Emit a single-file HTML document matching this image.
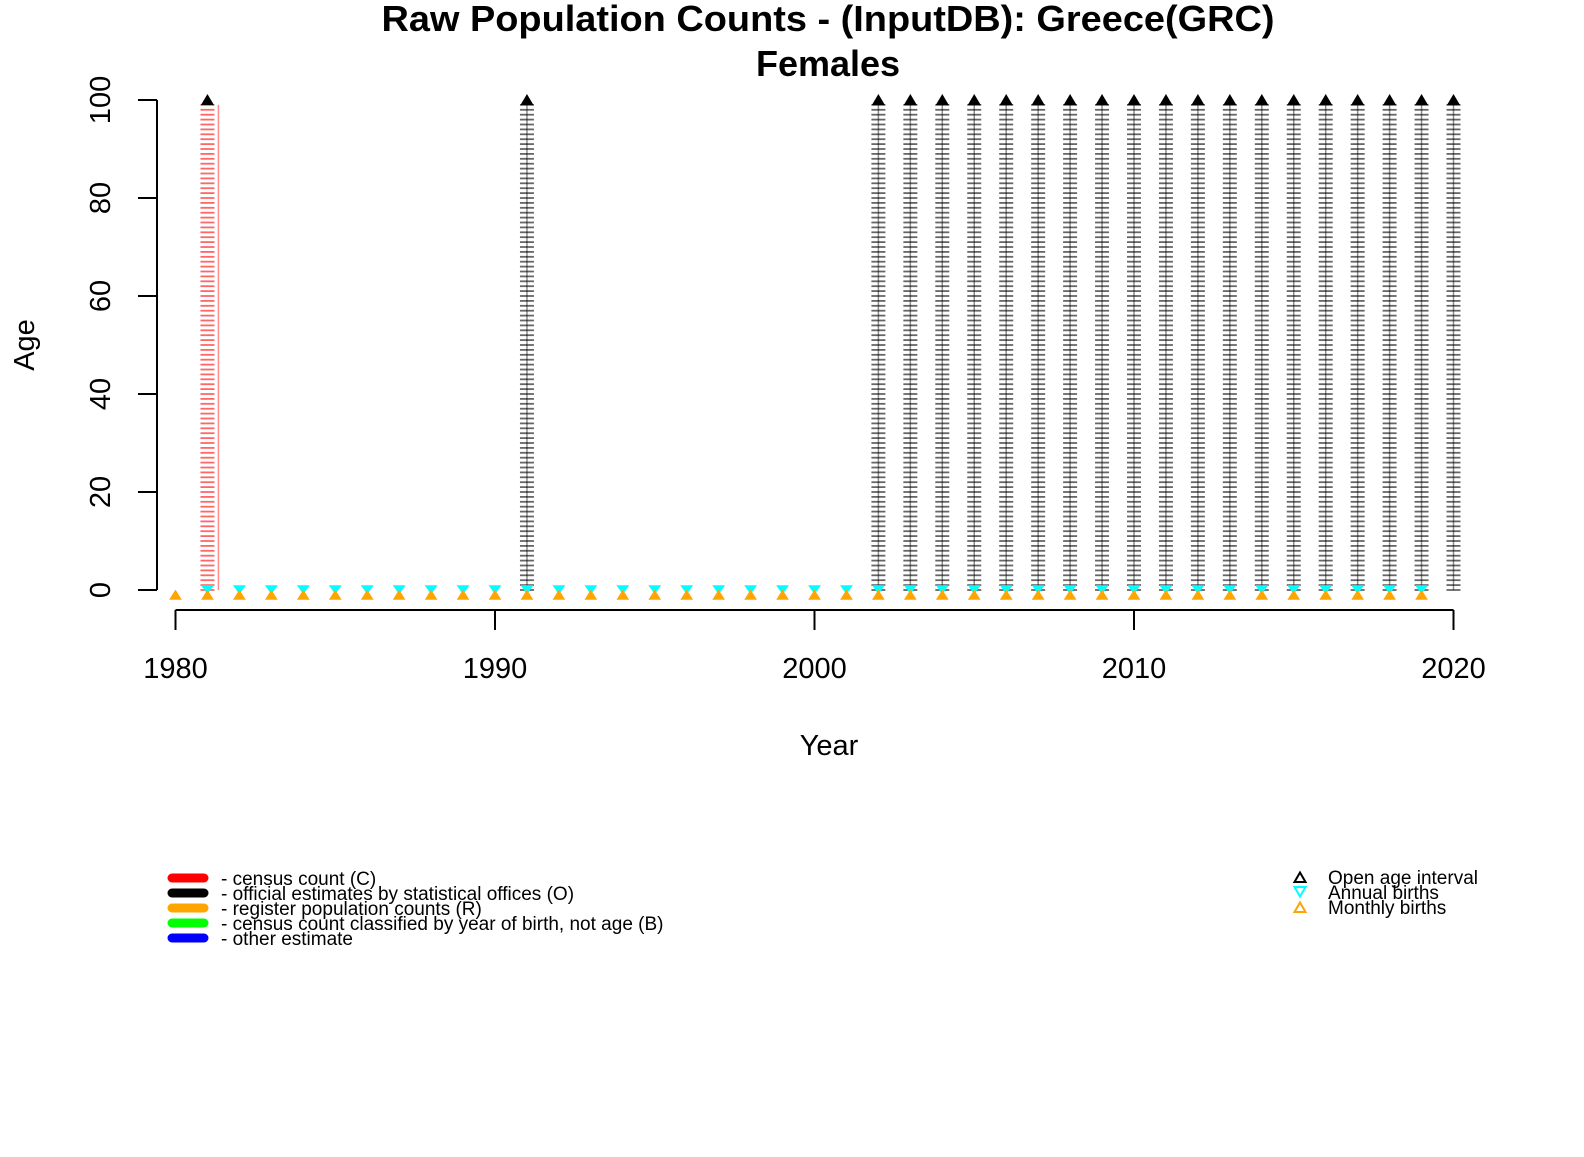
<!DOCTYPE html>
<html><head><meta charset="utf-8"><style>
html,body{margin:0;padding:0;background:#fff}
svg text{font-family:"Liberation Sans",Arial,sans-serif}
</style></head><body>
<svg id="chart" width="1584" height="1152" viewBox="0 0 1584 1152" xmlns="http://www.w3.org/2000/svg">
<text x="828" y="31" text-anchor="middle" font-size="36" font-weight="bold" textLength="893" lengthAdjust="spacingAndGlyphs">Raw Population Counts - (InputDB): Greece(GRC)</text>
<text x="828" y="76" text-anchor="middle" font-size="36" font-weight="bold">Females</text>
<g id="axes"></g>
<g id="marks"></g>
<text x="829" y="755" text-anchor="middle" font-size="29">Year</text>
<text transform="translate(34,345) rotate(-90)" text-anchor="middle" font-size="29">Age</text>
<g id="legend-left">
 <line x1="172" y1="878" x2="204" y2="878" stroke="#f00" stroke-width="9" stroke-linecap="round"/>
 <line x1="172" y1="893" x2="204" y2="893" stroke="#000" stroke-width="9" stroke-linecap="round"/>
 <line x1="172" y1="908" x2="204" y2="908" stroke="#ffa500" stroke-width="9" stroke-linecap="round"/>
 <line x1="172" y1="923" x2="204" y2="923" stroke="#0f0" stroke-width="9" stroke-linecap="round"/>
 <line x1="172" y1="938" x2="204" y2="938" stroke="#00f" stroke-width="9" stroke-linecap="round"/>
 <g font-size="19">
 <text x="221" y="885">- census count (C)</text>
 <text x="221" y="900">- official estimates by statistical offices (O)</text>
 <text x="221" y="915">- register population counts (R)</text>
 <text x="221" y="930">- census count classified by year of birth, not age (B)</text>
 <text x="221" y="945">- other estimate</text>
 </g>
</g>
<g id="legend-right">
 <polygon points="1294.5,882 1305.5,882 1300,872.5" fill="none" stroke="#000" stroke-width="2"/>
 <polygon points="1294.5,887 1305.5,887 1300,896.5" fill="none" stroke="#0ff" stroke-width="2"/>
 <polygon points="1294.5,912 1305.5,912 1300,902.5" fill="none" stroke="#ffa500" stroke-width="2"/>
 <g font-size="19">
 <text x="1328" y="884">Open age interval</text>
 <text x="1328" y="899">Annual births</text>
 <text x="1328" y="914">Monthly births</text>
 </g>
</g>
</svg>
<script>
const censusYears = [1981];
const officialYears = [1991, 2002, 2003, 2004, 2005, 2006, 2007, 2008, 2009, 2010, 2011, 2012, 2013, 2014, 2015, 2016, 2017, 2018, 2019, 2020];
const openAgeYears = [1981, 1991, 2002, 2003, 2004, 2005, 2006, 2007, 2008, 2009, 2010, 2011, 2012, 2013, 2014, 2015, 2016, 2017, 2018, 2019, 2020];
const annualBirthYears = [1981,1982,1983,1984,1985,1986,1987,1988,1989,1990,1991,1992,1993,1994,1995,1996,1997,1998,1999,2000,2001,2002,2003,2004,2005,2006,2007,2008,2009,2010,2011,2012,2013,2014,2015,2016,2017,2018,2019];
const monthlyBirthYears = [1980,1981,1982,1983,1984,1985,1986,1987,1988,1989,1990,1991,1992,1993,1994,1995,1996,1997,1998,1999,2000,2001,2002,2003,2004,2005,2006,2007,2008,2009,2010,2011,2012,2013,2014,2015,2016,2017,2018,2019];
const openAge = 100;
const maxTickAge = 99;
const xTicks = [1980, 1990, 2000, 2010, 2020];
const yTicks = [0, 20, 40, 60, 80, 100];

const NS = 'http://www.w3.org/2000/svg';
const X = y => 175.5 + (y - 1980) * (1453.5 - 175.5) / 40;
const Y = a => 590 - a * 4.9;
function mk(tag, attrs, parent) {
  const e = document.createElementNS(NS, tag);
  for (const k in attrs) e.setAttribute(k, attrs[k]);
  parent.appendChild(e);
  return e;
}
const axes = document.getElementById('axes');
const marks = document.getElementById('marks');

// y axis
let ya = mk('line', {x1:157, y1:Y(100), x2:157, y2:Y(0), stroke:'#000', 'stroke-width':2}, axes);


yTicks.forEach(t => {
  let l = mk('line', {x1:138, y1:Y(t), x2:157, y2:Y(t), stroke:'#000', 'stroke-width':2}, axes);
  
  
  let tx = mk('text', {transform:`translate(110,${Y(t)}) rotate(-90)`, 'text-anchor':'middle', 'font-size':29}, axes);
  tx.textContent = t;
  
  
});
// x axis
let xa = mk('line', {x1:X(1980), y1:610, x2:X(2020), y2:610, stroke:'#000', 'stroke-width':2}, axes);


xTicks.forEach(t => {
  let l = mk('line', {x1:X(t), y1:610, x2:X(t), y2:630, stroke:'#000', 'stroke-width':2}, axes);
  
  
  let tx = mk('text', {x:X(t), y:678, 'text-anchor':'middle', 'font-size':29}, axes);
  tx.textContent = t;
  
  
});

function bar(year, color, name, lineOffset) {
  const g = mk('g', {}, marks);
  
  
  const cx = X(year);
  mk('line', {x1:cx+lineOffset, y1:Y(maxTickAge), x2:cx+lineOffset, y2:Y(0), stroke:color, 'stroke-opacity':0.45, 'stroke-width':1.5}, g);
  for (let a = 0; a <= maxTickAge; a++) {
    mk('line', {x1:cx-7, y1:Y(a), x2:cx+7, y2:Y(a), stroke:color, 'stroke-opacity':0.6, 'stroke-width':1.8}, g);
  }
}
censusYears.forEach(y => bar(y, '#f00', 'census-bar-' + y, 11));
officialYears.forEach(y => bar(y, '#000', 'official-bar-' + y, 0));

annualBirthYears.forEach(y => {
  const cx = X(y), cy = Y(0) - 1;
  let p = mk('polygon', {points:`${cx-5},${cy-3} ${cx+5},${cy-3} ${cx},${cy+4}`, fill:'#0ff', stroke:'#0ff', 'stroke-width':1.5}, marks);
  
  
});
monthlyBirthYears.forEach(y => {
  const cx = X(y), cy = Y(0) + 5;
  let p = mk('polygon', {points:`${cx-5},${cy+4} ${cx+5},${cy+4} ${cx},${cy-4}`, fill:'#ffa500', stroke:'#ffa500', 'stroke-width':1.5}, marks);
  
  
});
openAgeYears.forEach(y => {
  const cx = X(y), cy = Y(openAge);
  let p = mk('polygon', {points:`${cx-6.5},${cy+5} ${cx+6.5},${cy+5} ${cx},${cy-6}`, fill:'#000'}, marks);
  
  
});
</script>
</body></html>
